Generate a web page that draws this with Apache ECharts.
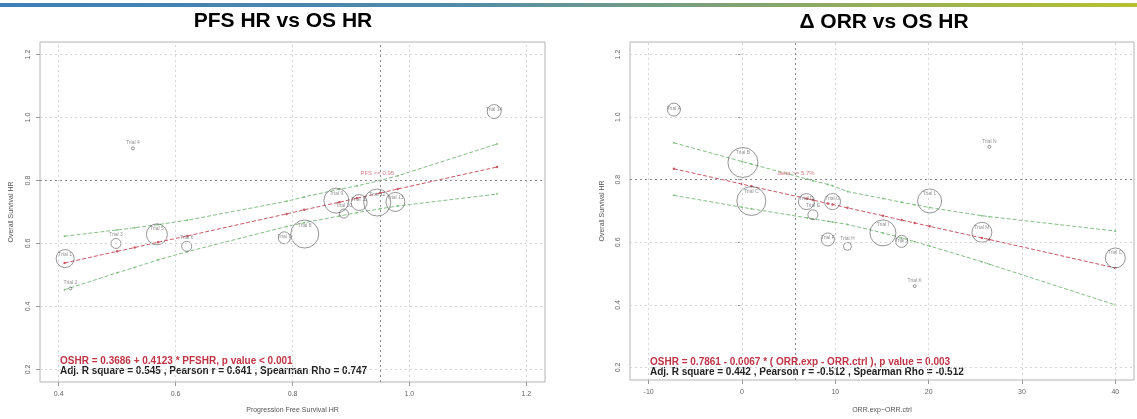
<!DOCTYPE html>
<html>
<head>
<meta charset="utf-8">
<script src="https://cdn.jsdelivr.net/npm/echarts@6/dist/echarts.min.js"></script>
<style>
html,body{margin:0;padding:0;background:#fff;}
#chart{width:1137px;height:419px;}
</style>
</head>
<body>
<div id="chart"></div>
<script>
// ---------- Left panel: PFS HR vs OS HR ----------
const pfsHR      = [0.411, 0.420, 0.498, 0.527, 0.568, 0.619, 0.786, 0.821, 0.875, 0.888, 0.914, 0.945, 0.976, 1.145];
const osHRLeft   = [0.552, 0.457, 0.600, 0.902, 0.629, 0.591, 0.618, 0.630, 0.736, 0.695, 0.730, 0.730, 0.732, 1.019];
const weightLeft = [9, 1.5, 5, 1.5, 10.5, 5, 6, 14, 12.5, 4.5, 8, 13.5, 9.5, 7];
const namesLeft  = ['Trial 1','Trial 2','Trial 3','Trial 4','Trial 5','Trial 6','Trial 7','Trial 8','Trial 9','Trial 10','Trial 11','Trial 12','Trial 13','Trial 14'];

const fitXLeft   = [0.41, 0.50, 0.53, 0.57, 0.62, 0.79, 0.82, 0.88, 0.91, 0.95, 0.98, 1.15];
const fitYLeft   = [0.538, 0.575, 0.587, 0.604, 0.624, 0.694, 0.707, 0.731, 0.744, 0.760, 0.773, 0.843];
const upperLeft  = [0.623, 0.643, 0.650, 0.660, 0.674, 0.734, 0.748, 0.772, 0.783, 0.800, 0.815, 0.916];
const lowerLeft  = [0.453, 0.507, 0.524, 0.548, 0.574, 0.654, 0.666, 0.687, 0.698, 0.710, 0.719, 0.757];

const xTicksLeft = [0.4, 0.6, 0.8, 1.0, 1.2];
const yTicks     = [0.2, 0.4, 0.6, 0.8, 1.0, 1.2];
const pfsCut     = 0.95;
const osCut      = 0.8;

// ---------- Right panel: delta ORR vs OS HR ----------
const dORR        = [-7.3, 0.1, 1.0, 6.9, 7.6, 9.2, 9.7, 11.3, 15.1, 17.1, 18.5, 20.1, 25.7, 26.5, 40.0];
const osHRRight   = [1.024, 0.855, 0.732, 0.730, 0.688, 0.609, 0.730, 0.587, 0.630, 0.603, 0.460, 0.732, 0.632, 0.905, 0.550];
const weightRight = [6.5, 15, 14.5, 8, 5, 6.5, 8, 4, 13, 6, 1.5, 12, 10, 1.5, 10];
const namesRight  = ['Trial A','Trial B','Trial C','Trial D','Trial E','Trial F','Trial G','Trial H','Trial I','Trial J','Trial K','Trial L','Trial M','Trial N','Trial O'];

const fitXRight   = [-7.3, 0, 1, 7, 7.6, 9.2, 9.7, 11.3, 15.1, 17.1, 18.5, 20.1, 25.7, 26.5, 40];
const fitYRight   = [0.835, 0.786, 0.779, 0.739, 0.735, 0.724, 0.721, 0.710, 0.685, 0.671, 0.662, 0.651, 0.614, 0.609, 0.518];
const upperRight  = [0.918, 0.858, 0.850, 0.802, 0.797, 0.785, 0.781, 0.762, 0.740, 0.728, 0.720, 0.711, 0.685, 0.682, 0.636];
const lowerRight  = [0.750, 0.712, 0.707, 0.678, 0.675, 0.667, 0.665, 0.657, 0.630, 0.614, 0.602, 0.588, 0.538, 0.530, 0.400];

const xTicksRight = [-10, 0, 10, 20, 30, 40];
const orrCut      = 5.7;

// ---------- texts ----------
const titleLeft  = 'PFS HR vs OS HR';
const titleRight = 'Δ ORR vs OS HR';
const eqLeft     = 'OSHR = 0.3686 + 0.4123 * PFSHR, p value < 0.001';
const statLeft   = 'Adj. R square = 0.545 , Pearson r = 0.641 , Spearman Rho = 0.747';
const eqRight    = 'OSHR = 0.7861 - 0.0067 * ( ORR.exp - ORR.ctrl ), p value = 0.003';
const statRight  = 'Adj. R square = 0.442 , Pearson r = -0.512 , Spearman Rho = -0.512';
const cutLabelLeft  = 'PFS <= 0.95';
const cutLabelRight = 'delta >= 5.7%';

// ---------- styling ----------
const FONT = 'Liberation Sans, Arial, sans-serif';
const RED = '#c85a66';
const GREEN = '#86bf86';
const GRID_C = '#d6d6d6';

function zip(xs, ys) { return xs.map((x, i) => [x, ys[i]]); }

function bubbles(xs, ys, ws, names) {
  return xs.map((x, i) => {
    const w = ws[i];
    return {
      value: [x, ys[i], w],
      name: names[i],
      label: w > 5
        ? { position: 'insideTop', distance: 3 }
        : { position: 'top', distance: 1 }
    };
  });
}

function fmtTick(v) {
  if (v === 1) return '1.0';
  if (Math.abs(v) < 2 && v % 1 !== 0) return v.toFixed(1);
  return String(v);
}

function gridMarkLines(xt, yt, xcut, ycut) {
  const data = [];
  xt.forEach(v => data.push({ xAxis: v }));
  yt.forEach(v => { if (v !== ycut) data.push({ yAxis: v }); });
  data.push({ yAxis: ycut, lineStyle: { color: '#8a8a8a', type: [2, 3], width: 1 } });
  data.push({ xAxis: xcut, lineStyle: { color: '#8a8a8a', type: [2, 3], width: 1 } });
  return {
    silent: true, symbol: ['none', 'none'], animation: false,
    label: { show: false },
    lineStyle: { color: GRID_C, type: [2, 3], width: 1 },
    data: data
  };
}

function xAxisDef(idx, min, max, ticks, name, nameGap) {
  return {
    type: 'value', gridIndex: idx, min: min, max: max,
    name: name, nameLocation: 'middle', nameGap: nameGap,
    nameTextStyle: { fontSize: 7, color: '#555', fontFamily: FONT },
    splitLine: { show: false },
    axisLine: { show: false },
    axisTick: { show: true, customValues: ticks, length: 4, lineStyle: { color: '#999' } },
    axisLabel: { customValues: ticks, formatter: v => fmtTick(v), fontSize: 7, color: '#666', fontFamily: FONT, margin: 9 }
  };
}
function yAxisDef(idx, name, nameGap) {
  return {
    type: 'value', gridIndex: idx, min: 0.16, max: 1.24,
    name: name, nameLocation: 'middle', nameGap: nameGap,
    nameTextStyle: { fontSize: 7, color: '#555', fontFamily: FONT },
    splitLine: { show: false },
    axisLine: { show: false },
    axisTick: { show: true, customValues: yTicks, length: 4, lineStyle: { color: '#999' } },
    axisLabel: { customValues: yTicks, rotate: 90, formatter: v => fmtTick(v), fontSize: 7, color: '#666', fontFamily: FONT, margin: 8 }
  };
}

function panelSeries(idx, bx, by, bw, bn, fx, fy, up, lo, xt, xcut, cutLabel, cutPos) {
  const lineBase = (data, color, size) => ({
    type: 'line', xAxisIndex: idx, yAxisIndex: idx, data: data,
    symbol: 'circle', symbolSize: size, showSymbol: true, showAllSymbol: true,
    lineStyle: { color: color, width: 1, type: [4, 2] },
    itemStyle: { color: color },
    silent: true, z: 3
  });
  return [
    {
      type: 'scatter', xAxisIndex: idx, yAxisIndex: idx,
      data: bubbles(bx, by, bw, bn),
      symbolSize: v => v[2] * 2,
      itemStyle: { color: 'rgba(255,255,255,0)', borderColor: '#5a5a5a', borderWidth: 0.8 },
      label: { show: true, formatter: p => p.name, fontSize: 5, color: '#777', fontFamily: FONT },
      markLine: gridMarkLines(xt, yTicks, xcut, osCut),
      silent: true, z: 4
    },
    lineBase(zip(fx, up), GREEN, 2),
    lineBase(zip(fx, lo), GREEN, 2),
    lineBase(zip(fx, fy), RED, 2.5),
    {
      type: 'scatter', xAxisIndex: idx, yAxisIndex: idx,
      data: [cutPos], symbolSize: 0,
      label: { show: true, position: 'inside', formatter: cutLabel, fontSize: 6, color: RED, fontFamily: FONT },
      silent: true, z: 5
    }
  ];
}

const chart = echarts.init(document.getElementById('chart'), null, { renderer: 'canvas' });

const option = {
  animation: false,
  backgroundColor: '#fff',
  grid: [
    { left: 40, right: 592, top: 42, bottom: 36, show: true, borderColor: '#b4b4b4', borderWidth: 1, backgroundColor: 'transparent' },
    { left: 630, right: 3, top: 42, bottom: 36, show: true, borderColor: '#b4b4b4', borderWidth: 1, backgroundColor: 'transparent' }
  ],
  xAxis: [
    xAxisDef(0, 0.368, 1.232, xTicksLeft, 'Progression Free Survival HR', 25),
    xAxisDef(1, -12, 42, xTicksRight, 'ORR.exp\u2212ORR.ctrl', 27)
  ],
  yAxis: [
    yAxisDef(0, 'Overall Survival HR', 25),
    yAxisDef(1, 'Overall Survival HR', 24)
  ],
  series: [].concat(
    panelSeries(0, pfsHR, osHRLeft, weightLeft, namesLeft, fitXLeft, fitYLeft, upperLeft, lowerLeft, xTicksLeft, pfsCut, cutLabelLeft, [0.945, 0.822]),
    panelSeries(1, dORR, osHRRight, weightRight, namesRight, fitXRight, fitYRight, upperRight, lowerRight, xTicksRight, orrCut, cutLabelRight, [5.8, 0.82])
  ),
  graphic: [
    {
      type: 'rect', shape: { x: 0, y: 3, width: 1137, height: 4 }, silent: true,
      style: { fill: new echarts.graphic.LinearGradient(0, 0, 1, 0, [
        { offset: 0, color: '#3d7fb8' },
        { offset: 0.4, color: '#4f8aa9' },
        { offset: 0.55, color: '#6f9a8a' },
        { offset: 0.75, color: '#93ac5c' },
        { offset: 1, color: '#b6c22e' }
      ]) }
    },
    { type: 'text', x: 283, y: 21, silent: true, style: { text: titleLeft, font: 'bold 21px ' + FONT, fill: '#000', align: 'center', verticalAlign: 'middle' } },
    { type: 'text', x: 884, y: 22, silent: true, style: { text: titleRight, font: 'bold 21px ' + FONT, fill: '#000', align: 'center', verticalAlign: 'middle' } },
    { type: 'text', x: 60, y: 361, silent: true, style: { text: eqLeft, font: 'bold 10px ' + FONT, fill: '#c03545', align: 'left', verticalAlign: 'middle' } },
    { type: 'text', x: 60, y: 371, silent: true, style: { text: statLeft, font: 'bold 10px ' + FONT, fill: '#222', align: 'left', verticalAlign: 'middle' } },
    { type: 'text', x: 650, y: 362, silent: true, style: { text: eqRight, font: 'bold 10px ' + FONT, fill: '#c03545', align: 'left', verticalAlign: 'middle' } },
    { type: 'text', x: 650, y: 372, silent: true, style: { text: statRight, font: 'bold 10px ' + FONT, fill: '#222', align: 'left', verticalAlign: 'middle' } }
  ]
};

chart.setOption(option);
</script>
</body>
</html>
